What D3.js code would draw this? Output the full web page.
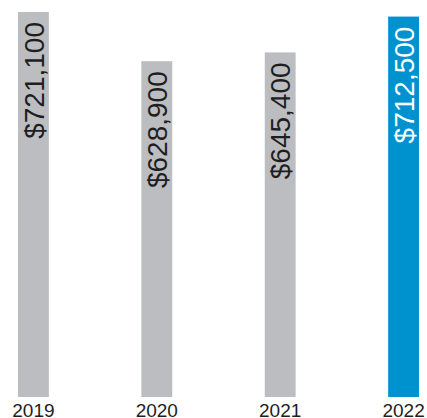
<!DOCTYPE html>
<html>
<head>
<meta charset="utf-8">
<script src="https://cdn.jsdelivr.net/npm/d3@7"></script>
<style>
  html, body { margin: 0; padding: 0; background: #fff; }
  svg { display: block; }
</style>
</head>
<body>
<svg id="chart" width="427" height="418"></svg>
<script>
// Median sale price by year
const years = ["2019", "2020", "2021", "2022"];
const prices = [721100, 628900, 645400, 712500];
const valueLabels = ["$721,100", "$628,900", "$645,400", "$712,500"];
const highlightYear = "2022";

const width = 427, height = 418;
const baseY = 397;

const svg = d3.select("#chart");

const x = d3.scaleBand()
  .domain(years)
  .range([18, 419])
  .paddingInner(0.75)
  .paddingOuter(0);

const y = d3.scaleLinear()
  .domain([0, 721100])
  .range([baseY, 12]);

const grey = "#bcbdc0";
const blue = "#0091cf";

const data = years.map((yr, i) => ({ year: yr, value: prices[i], label: valueLabels[i] }));

// Bars
svg.append("g")
  .selectAll("rect")
  .data(data)
  .join("rect")
  .attr("x", d => x(d.year))
  .attr("y", d => y(d.value))
  .attr("width", x.bandwidth())
  .attr("height", d => baseY - y(d.value))
  .attr("fill", d => d.year === highlightYear ? blue : grey);

// Vertical value labels inside each bar
svg.append("g")
  .selectAll("text")
  .data(data)
  .join("text")
  .attr("transform", d => `translate(${x(d.year) + x.bandwidth() / 2},${y(d.value) + 10}) rotate(-90)`)
  .attr("text-anchor", "end")
  .attr("dy", "0.36em")
  .attr("font-family", "'Liberation Sans', Arial, sans-serif")
  .attr("font-size", 28)
  .attr("fill", d => d.year === highlightYear ? "#ffffff" : "#1e1e1e")
  .text(d => d.label);

// Year axis along the bottom
const xAxis = d3.axisBottom(x).tickSize(0).tickPadding(0);
const axisG = svg.append("g")
  .attr("transform", `translate(0,${baseY})`)
  .call(xAxis);
axisG.select(".domain").remove();
axisG.selectAll("text")
  .attr("y", 20)
  .attr("dy", 0)
  .attr("font-family", "'Liberation Sans', Arial, sans-serif")
  .attr("font-size", 19)
  .attr("fill", "#1e1e1e");
</script>
</body>
</html>
